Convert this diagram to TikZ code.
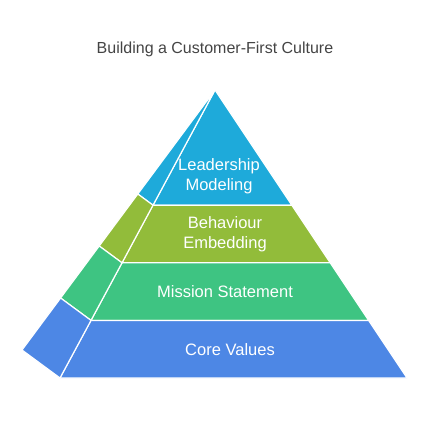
\documentclass[tikz,border=0pt]{standalone}
\usepackage{fontspec}
\setmainfont{Liberation Sans}
\usetikzlibrary{calc}

\definecolor{topblue}{HTML}{1EAADA}
\definecolor{leafgreen}{HTML}{92BC3A}
\definecolor{seagreen}{HTML}{3EC482}
\definecolor{baseblue}{HTML}{4D87E5}
\definecolor{titlegray}{HTML}{444444}

\tikzset{
  layer/.style={draw=white, line width=1.2pt, line join=round},
  label/.style={text=white, font=\fontsize{16.5}{19.5}\selectfont, align=center},
}

\begin{document}
\begin{tikzpicture}[x=1pt, y=-1pt]
	\useasboundingbox (0,0) rectangle (430,420);
	
	\coordinate (A) at (215,90);
	\coordinate (FL) at (60,378);
	\coordinate (FR) at (407,378);
	\coordinate (BL) at (22,350);
	
	% points on the three edges
	\foreach \n/\t in {1/0.4, 2/0.6, 3/0.8}{
		\coordinate (L\n) at ($(A)!\t!(FL)$);
		\coordinate (R\n) at ($(A)!\t!(FR)$);
		\coordinate (B\n) at ($(A)!\t!(BL)$);
	}
	
	% front face
	\path[layer, fill=topblue] (A) -- (L1) -- (R1) -- cycle;
	\path[layer, fill=leafgreen] (L1) -- (L2) -- (R2) -- (R1) -- cycle;
	\path[layer, fill=seagreen] (L2) -- (L3) -- (R3) -- (R2) -- cycle;
	\path[layer, fill=baseblue] (L3) -- (FL) -- (FR) -- (R3) -- cycle;
	
	% side face
	\path[layer, fill=topblue] (A) -- (B1) -- (L1) -- cycle;
	\path[layer, fill=leafgreen] (B1) -- (B2) -- (L2) -- (L1) -- cycle;
	\path[layer, fill=seagreen] (B2) -- (B3) -- (L3) -- (L2) -- cycle;
	\path[layer, fill=baseblue] (B3) -- (BL) -- (FL) -- (L3) -- cycle;
	
	\node[text=titlegray, font=\fontsize{16}{19}\selectfont] (title) at (215,49) {Building a Customer-First Culture};
	
	\node[label] (lead) at (219,176) {Leadership\\Modeling};
	\node[label] (behav) at (225,234) {Behaviour\\Embedding};
	\node[label] (mission) at (225,292) {Mission Statement};
	\node[label] (core) at (230,350) {Core Values};
\end{tikzpicture}
\end{document}
